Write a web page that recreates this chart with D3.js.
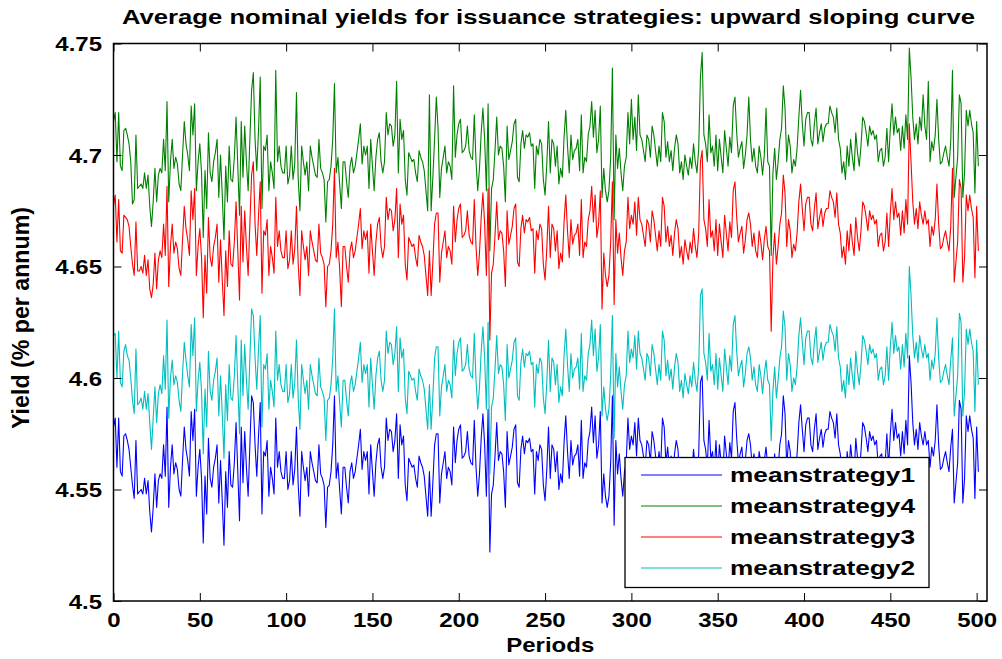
<!DOCTYPE html>
<html><head><meta charset="utf-8">
<script src="https://cdn.jsdelivr.net/npm/d3@7"></script>
<style>
body{margin:0;background:#fff}
svg text{font-family:"Liberation Sans",Arial,Helvetica,sans-serif;font-weight:bold;fill:#000}
</style>
</head><body>
<svg id="chart" width="1002" height="659"></svg>
<script>
const titleText = "Average nominal yields for issuance strategies: upward sloping curve";
const xLabelText = "Periods";
const yLabelText = "Yield (% per annum)";
const xTicks = [0,50,100,150,200,250,300,350,400,450,500];
const xTickLabels = ["0","50","100","150","200","250","300","350","400","450","500"];
const yTicks = [4.5,4.55,4.6,4.65,4.7,4.75];
const yTickLabels = ["4.5","4.55","4.6","4.65","4.7","4.75"];
const seriesNames = ["meanstrategy1","meanstrategy4","meanstrategy3","meanstrategy2"];
const seriesColors = ["#0000ff","#008000","#ff0000","#00bfbf"];

const meanstrategy1 = [
4.578,4.582,4.560,4.582,4.558,4.556,4.574,4.575,4.572,4.568,
4.560,4.552,4.546,4.572,4.548,4.549,4.550,4.548,4.555,4.548,
4.554,4.540,4.531,4.542,4.557,4.542,4.554,4.557,4.555,4.570,
4.556,4.587,4.542,4.560,4.570,4.557,4.562,4.559,4.550,4.547,
4.563,4.578,4.568,4.563,4.556,4.585,4.572,4.586,4.547,4.560,
4.568,4.555,4.526,4.556,4.539,4.573,4.555,4.551,4.560,4.564,
4.570,4.544,4.563,4.545,4.525,4.558,4.542,4.567,4.552,4.551,
4.562,4.580,4.558,4.536,4.578,4.553,4.576,4.560,4.547,4.570,
4.592,4.589,4.570,4.556,4.574,4.589,4.539,4.567,4.565,4.572,
4.547,4.560,4.555,4.548,4.582,4.560,4.567,4.558,4.555,4.555,
4.567,4.550,4.554,4.567,4.552,4.559,4.578,4.552,4.538,4.567,
4.560,4.554,4.560,4.547,4.567,4.562,4.558,4.554,4.553,4.570,
4.557,4.555,4.552,4.533,4.551,4.552,4.558,4.570,4.592,4.555,
4.562,4.550,4.539,4.560,4.560,4.551,4.544,4.558,4.562,4.555,
4.558,4.564,4.570,4.577,4.559,4.567,4.563,4.567,4.548,4.570,
4.558,4.547,4.562,4.570,4.573,4.560,4.555,4.560,4.582,4.572,
4.577,4.576,4.567,4.572,4.584,4.555,4.579,4.570,4.574,4.552,
4.545,4.564,4.562,4.560,4.561,4.555,4.551,4.565,4.562,4.560,
4.556,4.547,4.538,4.558,4.538,4.553,4.570,4.575,4.575,4.544,
4.557,4.562,4.567,4.555,4.560,4.558,4.552,4.578,4.562,4.572,
4.577,4.579,4.564,4.565,4.567,4.576,4.565,4.562,4.561,4.581,
4.560,4.547,4.557,4.573,4.584,4.570,4.547,4.586,4.522,4.548,
4.552,4.565,4.580,4.563,4.567,4.566,4.558,4.542,4.576,4.561,
4.565,4.569,4.577,4.579,4.553,4.551,4.568,4.574,4.566,4.572,
4.571,4.573,4.567,4.568,4.548,4.567,4.563,4.570,4.568,4.552,
4.545,4.559,4.578,4.555,4.570,4.568,4.558,4.567,4.550,4.557,
4.553,4.571,4.583,4.567,4.555,4.572,4.561,4.565,4.566,4.570,
4.556,4.581,4.555,4.562,4.560,4.572,4.576,4.587,4.571,4.583,
4.564,4.570,4.585,4.544,4.557,4.547,4.542,4.547,4.562,4.592,
4.534,4.572,4.557,4.566,4.555,4.547,4.558,4.562,4.582,4.568,
4.574,4.570,4.580,4.565,4.582,4.572,4.570,4.565,4.560,4.572,
4.570,4.562,4.576,4.572,4.565,4.558,4.567,4.560,4.582,4.578,
4.562,4.569,4.560,4.565,4.556,4.566,4.572,4.568,4.555,4.560,
4.552,4.563,4.558,4.554,4.562,4.557,4.568,4.560,4.555,4.566,
4.598,4.601,4.572,4.568,4.560,4.581,4.564,4.567,4.558,4.572,
4.556,4.570,4.562,4.555,4.574,4.566,4.558,4.571,4.564,4.585,
4.589,4.573,4.562,4.566,4.569,4.557,4.563,4.572,4.575,4.570,
4.560,4.566,4.558,4.555,4.567,4.562,4.554,4.563,4.569,4.560,
4.558,4.526,4.555,4.566,4.552,4.560,4.570,4.575,4.592,4.584,
4.560,4.572,4.567,4.555,4.561,4.558,4.566,4.580,4.588,4.577,
4.567,4.579,4.582,4.582,4.570,4.567,4.577,4.584,4.568,4.573,
4.577,4.569,4.575,4.577,4.577,4.585,4.582,4.580,4.573,4.584,
4.570,4.566,4.555,4.560,4.552,4.567,4.558,4.570,4.562,4.556,
4.573,4.564,4.558,4.567,4.580,4.578,4.573,4.567,4.576,4.572,
4.574,4.570,4.572,4.560,4.565,4.566,4.558,4.562,4.575,4.560,
4.575,4.586,4.572,4.580,4.573,4.575,4.565,4.576,4.566,4.581,
4.570,4.610,4.598,4.580,4.570,4.577,4.568,4.580,4.574,4.570,
4.576,4.570,4.572,4.560,4.569,4.565,4.572,4.588,4.570,4.559,
4.560,4.564,4.567,4.562,4.558,4.569,4.577,4.544,4.553,4.562,
4.590,4.586,4.544,4.555,4.583,4.576,4.583,4.577,4.573,4.546,
4.578,4.558];

const meanstrategy2 = [
4.619,4.620,4.600,4.621,4.598,4.596,4.612,4.615,4.610,4.608,
4.600,4.590,4.584,4.613,4.588,4.589,4.591,4.586,4.594,4.586,
4.593,4.580,4.568,4.582,4.596,4.580,4.593,4.597,4.593,4.610,
4.595,4.626,4.582,4.600,4.608,4.597,4.601,4.598,4.590,4.585,
4.602,4.616,4.608,4.601,4.596,4.624,4.610,4.627,4.585,4.599,
4.607,4.594,4.566,4.595,4.578,4.612,4.594,4.590,4.599,4.603,
4.609,4.583,4.601,4.584,4.564,4.597,4.581,4.606,4.591,4.590,
4.601,4.619,4.597,4.575,4.617,4.592,4.615,4.599,4.586,4.609,
4.631,4.628,4.609,4.595,4.613,4.628,4.578,4.606,4.604,4.611,
4.586,4.599,4.594,4.587,4.621,4.599,4.606,4.597,4.594,4.594,
4.606,4.589,4.593,4.606,4.591,4.598,4.617,4.591,4.577,4.606,
4.599,4.593,4.599,4.586,4.606,4.601,4.597,4.593,4.592,4.609,
4.596,4.594,4.591,4.572,4.590,4.591,4.597,4.609,4.631,4.594,
4.601,4.589,4.578,4.599,4.599,4.590,4.583,4.597,4.601,4.594,
4.597,4.603,4.609,4.616,4.598,4.606,4.602,4.606,4.587,4.609,
4.597,4.586,4.601,4.609,4.612,4.599,4.594,4.599,4.621,4.611,
4.616,4.615,4.606,4.611,4.623,4.594,4.618,4.609,4.613,4.591,
4.584,4.603,4.601,4.599,4.600,4.594,4.590,4.604,4.601,4.599,
4.595,4.586,4.577,4.597,4.577,4.592,4.609,4.614,4.614,4.583,
4.596,4.601,4.606,4.594,4.599,4.597,4.591,4.617,4.601,4.611,
4.616,4.618,4.603,4.604,4.606,4.615,4.604,4.601,4.600,4.620,
4.599,4.586,4.596,4.612,4.623,4.609,4.586,4.625,4.557,4.587,
4.591,4.604,4.619,4.602,4.606,4.605,4.597,4.581,4.615,4.600,
4.604,4.608,4.616,4.618,4.592,4.590,4.607,4.613,4.605,4.611,
4.610,4.612,4.606,4.607,4.587,4.606,4.602,4.609,4.607,4.591,
4.584,4.598,4.617,4.594,4.609,4.607,4.597,4.606,4.589,4.596,
4.592,4.610,4.622,4.606,4.594,4.611,4.600,4.604,4.605,4.609,
4.595,4.620,4.594,4.601,4.599,4.611,4.615,4.626,4.610,4.622,
4.603,4.609,4.624,4.583,4.596,4.586,4.581,4.586,4.601,4.628,
4.573,4.611,4.596,4.605,4.594,4.586,4.597,4.601,4.621,4.607,
4.613,4.609,4.619,4.604,4.621,4.611,4.609,4.604,4.599,4.611,
4.609,4.601,4.615,4.611,4.604,4.597,4.606,4.599,4.621,4.617,
4.601,4.608,4.599,4.604,4.595,4.605,4.611,4.607,4.594,4.599,
4.591,4.602,4.597,4.593,4.601,4.596,4.607,4.599,4.594,4.605,
4.637,4.640,4.611,4.607,4.599,4.620,4.603,4.606,4.597,4.611,
4.595,4.609,4.601,4.594,4.613,4.605,4.597,4.610,4.603,4.624,
4.628,4.612,4.601,4.605,4.608,4.596,4.602,4.611,4.614,4.609,
4.599,4.605,4.597,4.594,4.606,4.601,4.593,4.602,4.608,4.599,
4.597,4.572,4.594,4.605,4.591,4.599,4.609,4.614,4.630,4.623,
4.599,4.611,4.606,4.594,4.600,4.597,4.605,4.619,4.627,4.616,
4.606,4.618,4.621,4.621,4.609,4.606,4.616,4.623,4.607,4.612,
4.616,4.608,4.614,4.616,4.616,4.624,4.621,4.619,4.612,4.623,
4.609,4.605,4.594,4.599,4.591,4.606,4.597,4.609,4.601,4.595,
4.612,4.603,4.597,4.606,4.619,4.617,4.612,4.606,4.615,4.611,
4.613,4.609,4.611,4.599,4.604,4.605,4.597,4.601,4.614,4.599,
4.614,4.625,4.611,4.619,4.612,4.614,4.604,4.615,4.605,4.620,
4.609,4.650,4.637,4.619,4.609,4.616,4.607,4.619,4.613,4.609,
4.615,4.609,4.611,4.599,4.608,4.604,4.611,4.627,4.609,4.598,
4.599,4.603,4.606,4.601,4.597,4.608,4.618,4.583,4.592,4.601,
4.629,4.625,4.583,4.594,4.622,4.615,4.622,4.616,4.612,4.585,
4.617,4.597];

const meanstrategy3 = [
4.677,4.682,4.661,4.680,4.657,4.656,4.673,4.672,4.671,4.668,
4.659,4.651,4.646,4.670,4.648,4.648,4.650,4.647,4.655,4.646,
4.653,4.640,4.636,4.642,4.656,4.640,4.653,4.657,4.654,4.669,
4.655,4.686,4.641,4.659,4.669,4.656,4.661,4.658,4.649,4.646,
4.662,4.677,4.667,4.662,4.655,4.684,4.671,4.685,4.646,4.659,
4.667,4.654,4.627,4.655,4.638,4.672,4.654,4.650,4.659,4.663,
4.669,4.643,4.662,4.644,4.628,4.657,4.641,4.666,4.651,4.650,
4.661,4.679,4.657,4.635,4.677,4.652,4.675,4.659,4.646,4.669,
4.691,4.697,4.669,4.655,4.673,4.688,4.638,4.666,4.664,4.671,
4.646,4.659,4.654,4.647,4.681,4.659,4.666,4.657,4.654,4.654,
4.666,4.649,4.653,4.666,4.651,4.658,4.677,4.651,4.637,4.666,
4.659,4.653,4.659,4.646,4.666,4.661,4.657,4.653,4.652,4.669,
4.656,4.654,4.651,4.632,4.650,4.651,4.657,4.669,4.694,4.654,
4.661,4.649,4.632,4.659,4.659,4.650,4.643,4.657,4.661,4.654,
4.657,4.663,4.669,4.676,4.658,4.666,4.662,4.666,4.647,4.669,
4.657,4.646,4.661,4.669,4.672,4.659,4.654,4.659,4.681,4.671,
4.676,4.675,4.666,4.671,4.685,4.654,4.678,4.669,4.673,4.651,
4.644,4.663,4.661,4.659,4.660,4.654,4.650,4.664,4.661,4.659,
4.655,4.646,4.637,4.657,4.637,4.652,4.669,4.674,4.674,4.643,
4.656,4.661,4.666,4.654,4.659,4.657,4.651,4.677,4.661,4.671,
4.676,4.678,4.663,4.664,4.666,4.675,4.664,4.661,4.660,4.680,
4.659,4.646,4.656,4.672,4.683,4.669,4.646,4.685,4.617,4.647,
4.651,4.664,4.679,4.662,4.666,4.665,4.657,4.641,4.675,4.660,
4.664,4.668,4.676,4.678,4.652,4.650,4.667,4.673,4.665,4.671,
4.670,4.672,4.666,4.667,4.647,4.666,4.662,4.669,4.667,4.651,
4.644,4.658,4.677,4.654,4.669,4.667,4.657,4.666,4.649,4.656,
4.652,4.670,4.682,4.666,4.654,4.671,4.660,4.664,4.665,4.669,
4.655,4.680,4.654,4.661,4.659,4.671,4.675,4.686,4.670,4.682,
4.663,4.669,4.684,4.631,4.656,4.646,4.641,4.646,4.661,4.688,
4.633,4.671,4.656,4.665,4.654,4.646,4.657,4.661,4.681,4.667,
4.673,4.669,4.679,4.664,4.681,4.671,4.669,4.664,4.659,4.671,
4.669,4.661,4.675,4.671,4.664,4.657,4.666,4.659,4.681,4.677,
4.661,4.668,4.659,4.664,4.655,4.665,4.671,4.667,4.654,4.659,
4.651,4.662,4.657,4.653,4.661,4.656,4.667,4.659,4.654,4.665,
4.697,4.702,4.671,4.667,4.659,4.680,4.663,4.666,4.657,4.671,
4.655,4.669,4.661,4.654,4.673,4.665,4.657,4.670,4.663,4.684,
4.688,4.672,4.661,4.665,4.668,4.656,4.662,4.671,4.674,4.669,
4.659,4.665,4.657,4.654,4.666,4.661,4.653,4.662,4.668,4.659,
4.657,4.621,4.654,4.665,4.651,4.659,4.669,4.674,4.691,4.683,
4.659,4.671,4.666,4.654,4.660,4.657,4.665,4.679,4.687,4.676,
4.666,4.678,4.681,4.681,4.669,4.666,4.676,4.683,4.667,4.672,
4.676,4.668,4.674,4.676,4.676,4.684,4.681,4.679,4.672,4.683,
4.669,4.665,4.654,4.659,4.651,4.666,4.657,4.669,4.661,4.655,
4.672,4.663,4.657,4.666,4.679,4.677,4.672,4.666,4.675,4.671,
4.673,4.669,4.671,4.659,4.664,4.665,4.657,4.661,4.674,4.659,
4.674,4.685,4.671,4.679,4.672,4.674,4.664,4.675,4.665,4.680,
4.669,4.714,4.697,4.679,4.669,4.676,4.667,4.679,4.673,4.669,
4.675,4.669,4.671,4.659,4.668,4.664,4.671,4.687,4.669,4.658,
4.659,4.663,4.666,4.661,4.657,4.668,4.694,4.643,4.652,4.661,
4.689,4.685,4.643,4.654,4.682,4.675,4.682,4.676,4.672,4.645,
4.677,4.657];

const meanstrategy4 = [
4.715,4.719,4.697,4.719,4.695,4.693,4.711,4.712,4.709,4.705,
4.697,4.678,4.680,4.709,4.685,4.686,4.687,4.685,4.692,4.685,
4.691,4.677,4.668,4.679,4.694,4.679,4.691,4.694,4.692,4.707,
4.693,4.724,4.679,4.697,4.707,4.694,4.699,4.696,4.687,4.684,
4.700,4.715,4.705,4.700,4.693,4.722,4.709,4.723,4.684,4.697,
4.705,4.692,4.663,4.693,4.676,4.710,4.692,4.688,4.697,4.701,
4.707,4.681,4.700,4.682,4.662,4.695,4.679,4.704,4.689,4.688,
4.699,4.717,4.695,4.673,4.715,4.690,4.713,4.697,4.684,4.707,
4.729,4.737,4.707,4.693,4.711,4.735,4.676,4.704,4.702,4.709,
4.684,4.697,4.692,4.685,4.738,4.697,4.704,4.695,4.692,4.692,
4.704,4.687,4.691,4.704,4.689,4.696,4.728,4.689,4.675,4.704,
4.697,4.691,4.697,4.684,4.704,4.699,4.695,4.691,4.690,4.707,
4.694,4.692,4.689,4.670,4.688,4.689,4.695,4.707,4.732,4.692,
4.699,4.687,4.676,4.697,4.697,4.688,4.681,4.695,4.699,4.692,
4.695,4.701,4.707,4.714,4.696,4.704,4.700,4.704,4.685,4.707,
4.695,4.684,4.699,4.707,4.710,4.697,4.692,4.697,4.719,4.709,
4.714,4.713,4.704,4.709,4.733,4.692,4.716,4.707,4.711,4.689,
4.682,4.701,4.699,4.697,4.698,4.692,4.688,4.702,4.699,4.697,
4.693,4.684,4.675,4.727,4.675,4.690,4.707,4.726,4.712,4.681,
4.694,4.699,4.704,4.692,4.697,4.695,4.689,4.731,4.699,4.709,
4.714,4.716,4.701,4.702,4.704,4.713,4.702,4.699,4.698,4.718,
4.697,4.684,4.694,4.710,4.721,4.707,4.684,4.723,4.657,4.685,
4.689,4.702,4.717,4.700,4.704,4.703,4.695,4.679,4.713,4.698,
4.702,4.706,4.714,4.716,4.690,4.688,4.705,4.711,4.703,4.709,
4.708,4.710,4.704,4.705,4.685,4.704,4.700,4.707,4.705,4.689,
4.682,4.696,4.715,4.692,4.707,4.705,4.695,4.704,4.687,4.694,
4.690,4.708,4.720,4.704,4.692,4.709,4.698,4.702,4.703,4.707,
4.693,4.718,4.692,4.699,4.697,4.709,4.713,4.724,4.708,4.720,
4.701,4.707,4.722,4.681,4.694,4.684,4.679,4.684,4.699,4.739,
4.671,4.709,4.694,4.703,4.692,4.684,4.695,4.699,4.719,4.705,
4.725,4.707,4.717,4.702,4.727,4.709,4.707,4.702,4.697,4.709,
4.707,4.699,4.713,4.709,4.702,4.695,4.704,4.697,4.719,4.715,
4.699,4.706,4.697,4.702,4.693,4.703,4.709,4.705,4.692,4.697,
4.689,4.700,4.695,4.691,4.699,4.694,4.705,4.697,4.692,4.703,
4.735,4.746,4.709,4.705,4.697,4.718,4.701,4.704,4.695,4.709,
4.693,4.707,4.699,4.692,4.711,4.703,4.695,4.708,4.701,4.722,
4.726,4.710,4.699,4.703,4.706,4.694,4.700,4.709,4.726,4.707,
4.697,4.703,4.695,4.692,4.704,4.699,4.691,4.700,4.721,4.697,
4.695,4.655,4.692,4.703,4.689,4.697,4.707,4.712,4.731,4.721,
4.697,4.709,4.704,4.692,4.698,4.695,4.703,4.717,4.729,4.714,
4.704,4.716,4.719,4.719,4.707,4.704,4.714,4.721,4.705,4.710,
4.714,4.706,4.712,4.714,4.714,4.722,4.719,4.717,4.710,4.721,
4.707,4.703,4.692,4.697,4.689,4.704,4.695,4.707,4.699,4.693,
4.710,4.701,4.695,4.704,4.717,4.715,4.710,4.704,4.713,4.709,
4.711,4.707,4.709,4.697,4.702,4.703,4.695,4.699,4.712,4.697,
4.712,4.723,4.709,4.717,4.710,4.712,4.702,4.713,4.703,4.718,
4.707,4.748,4.735,4.717,4.707,4.714,4.705,4.717,4.711,4.727,
4.713,4.707,4.733,4.697,4.706,4.702,4.709,4.725,4.707,4.696,
4.697,4.701,4.704,4.699,4.695,4.706,4.738,4.681,4.690,4.699,
4.727,4.723,4.681,4.692,4.720,4.713,4.720,4.714,4.710,4.683,
4.715,4.695];

const seriesData = [meanstrategy1, meanstrategy4, meanstrategy3, meanstrategy2];

// ---------- drawing ----------
const svg = d3.select("#chart");
const L = 113.5, R = 987, T = 43.5, B = 601;
const SX = 1.2; // horizontal stretch of the original figure text
const x = d3.scaleLinear().domain([0, 506]).range([L, R]);
const y = d3.scaleLinear().domain([4.5, 4.75]).range([B, T]);

svg.append("rect").attr("x",0).attr("y",0).attr("width",1002).attr("height",659).attr("fill","#fff");

svg.append("defs").append("clipPath").attr("id","plotclip")
  .append("rect").attr("x",L).attr("y",T).attr("width",R-L).attr("height",B-T);

const line = d3.line().x((d,i)=>x(i)).y(d=>y(d));
const g = svg.append("g").attr("clip-path","url(#plotclip)");
seriesData.forEach((arr, k) => {
  g.append("path").datum(arr)
    .attr("d", line)
    .attr("fill","none")
    .attr("stroke", seriesColors[k])
    .attr("stroke-width", 1.1)
    .attr("stroke-linejoin","round");
});

// axes (ticks inward, box)
const tickLen = 8;
const axB = svg.append("g").attr("transform",`translate(0,${B})`)
  .call(d3.axisBottom(x).tickValues(xTicks).tickFormat((d,i)=>xTickLabels[i]).tickSizeInner(-tickLen).tickSizeOuter(0));
const axT = svg.append("g").attr("transform",`translate(0,${T})`)
  .call(d3.axisTop(x).tickValues(xTicks).tickFormat("").tickSizeInner(-tickLen).tickSizeOuter(0));
const axL = svg.append("g").attr("transform",`translate(${L},0)`)
  .call(d3.axisLeft(y).tickValues(yTicks).tickFormat((d,i)=>yTickLabels[i]).tickSizeInner(-tickLen).tickSizeOuter(0));
const axR = svg.append("g").attr("transform",`translate(${R},0)`)
  .call(d3.axisRight(y).tickValues(yTicks).tickFormat("").tickSizeInner(-tickLen).tickSizeOuter(0));

[axB,axT,axL,axR].forEach(a=>{
  a.select(".domain").remove();
  a.selectAll(".tick line").attr("stroke","#000").attr("stroke-width",1);
  a.attr("font-family",null).attr("font-size",null);
});

axB.selectAll(".tick text")
  .attr("y", 26).attr("dy", null)
  .attr("font-size", 20)
  .attr("transform", `scale(${SX},1)`);
axL.selectAll(".tick text")
  .attr("x", -11.5/SX).attr("dy", "0.35em")
  .attr("font-size", 20)
  .attr("transform", `scale(${SX},1)`);

svg.append("rect").attr("x",L).attr("y",T).attr("width",R-L).attr("height",B-T)
  .attr("fill","none").attr("stroke","#000").attr("stroke-width",1.5);

// title and labels
svg.append("text").attr("x",548.5).attr("y",24)
  .attr("text-anchor","middle").attr("font-size",20)
  .attr("textLength",853).attr("lengthAdjust","spacingAndGlyphs")
  .text(titleText);

svg.append("text").attr("transform",`translate(${(L+R)/2},652) scale(${SX},1)`)
  .attr("text-anchor","middle").attr("font-size",20)
  .text(xLabelText);

svg.append("text").attr("transform",`translate(29,318) scale(${SX},1) rotate(-90)`)
  .attr("text-anchor","middle").attr("font-size",20)
  .attr("textLength",222).attr("lengthAdjust","spacingAndGlyphs")
  .text(yLabelText);

// legend
const lg = svg.append("g");
lg.append("rect").attr("x",625).attr("y",457.5).attr("width",304).attr("height",130)
  .attr("fill","#fff").attr("stroke","#000").attr("stroke-width",1.3);
const rowY = d3.scalePoint().domain(seriesNames).range([475, 568]);
seriesNames.forEach((nm,k)=>{
  lg.append("line").attr("x1",641).attr("x2",722)
    .attr("y1",rowY(nm)).attr("y2",rowY(nm))
    .attr("stroke",seriesColors[k]).attr("stroke-width",1.1);
  lg.append("text").attr("x",730).attr("y",rowY(nm)+7)
    .attr("font-size",20)
    .attr("textLength",185).attr("lengthAdjust","spacingAndGlyphs")
    .text(nm);
});
</script>
</body></html>
